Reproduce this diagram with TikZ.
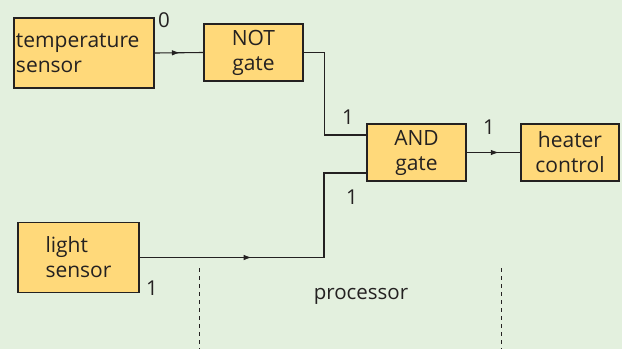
\documentclass[tikz,border=0pt]{standalone}
\usepackage{fontspec}
\setmainfont{Open Sans}
\usepackage{tikz}
\usetikzlibrary{positioning,arrows.meta,decorations.markings}
\definecolor{panelgreen}{rgb}{0.89, 0.94, 0.87}
\definecolor{boxyellow}{rgb}{1.0, 0.85, 0.48}
\definecolor{inkgray}{rgb}{0.14, 0.13, 0.13}

\tikzset{
    block/.style={draw=inkgray, line width=1.2pt, fill=boxyellow, text=inkgray,
        minimum height=57pt, align=center, font=\fontsize{21}{25}\selectfont},
    wire/.style={draw=inkgray, line width=1.1pt},
    midarrow/.style={postaction={decorate}, decoration={markings,
        mark=at position #1 with {\arrow{Latex[length=8pt,width=5.5pt]}}}},
    bitlabel/.style={text=inkgray, font=\fontsize{20.5}{24}\selectfont}
}

\begin{document}
\begin{tikzpicture}[x=1pt, y=-1pt]
        % Panel
        \fill[panelgreen] (0,0) rectangle (622,349);
        \useasboundingbox (0,0) rectangle (622,349);

        % Blocks
        \node[block, minimum width=140pt, minimum height=70pt, text width=136pt,
              inner xsep=2pt, align=left] (temp) at (84,53) {temperature\\sensor};
        \node[block, minimum width=99pt] (notg) at (253.5,52.5) {NOT\\gate};
        \node[block, minimum width=99pt] (andg) at (416.5,152.5) {AND\\gate};
        \node[block, minimum width=98pt] (heater) at (570,152.5) {heater\\control};
        \node[block, minimum width=121pt, minimum height=70pt, align=left] (light) at (78.5,257.5) {light\\sensor};

        % Gate inputs
        \coordinate (inA) at ([yshift=17.5pt]andg.west);
        \coordinate (inB) at ([yshift=-20.5pt]andg.west);
        \coordinate (joinB) at (324,173);

        % Wires
        \draw[wire, midarrow=0.52] (temp.east) -- (notg.west);
        \draw[wire] (notg.east) -- ++(21,0) |- (inA);
        \draw[wire, midarrow=0.36] (light.east) -| (joinB) -- (inB);
        \draw[wire, midarrow=0.6] (andg.east) -- (heater.west);

        % Logic levels
        \node[bitlabel] (lvltemp) at (164,20) {0};
        \node[bitlabel] (lvlnot) at (348,117) {1};
        \node[bitlabel] (lvllight) at (352,197) {1};
        \node[bitlabel] (lvlout) at (489,127) {1};
        \node[bitlabel] (lvlsense) at (152,288) {1};

        % Processor boundary
        \draw[inkgray, line width=0.8pt, dash pattern=on 4pt off 4pt] (199,268) -- (199,349);
        \draw[inkgray, line width=0.8pt, dash pattern=on 4pt off 4pt] (501,268) -- (501,349);
        \node[bitlabel, anchor=base] (proc) at (361,299) {processor};
\end{tikzpicture}
\end{document}
